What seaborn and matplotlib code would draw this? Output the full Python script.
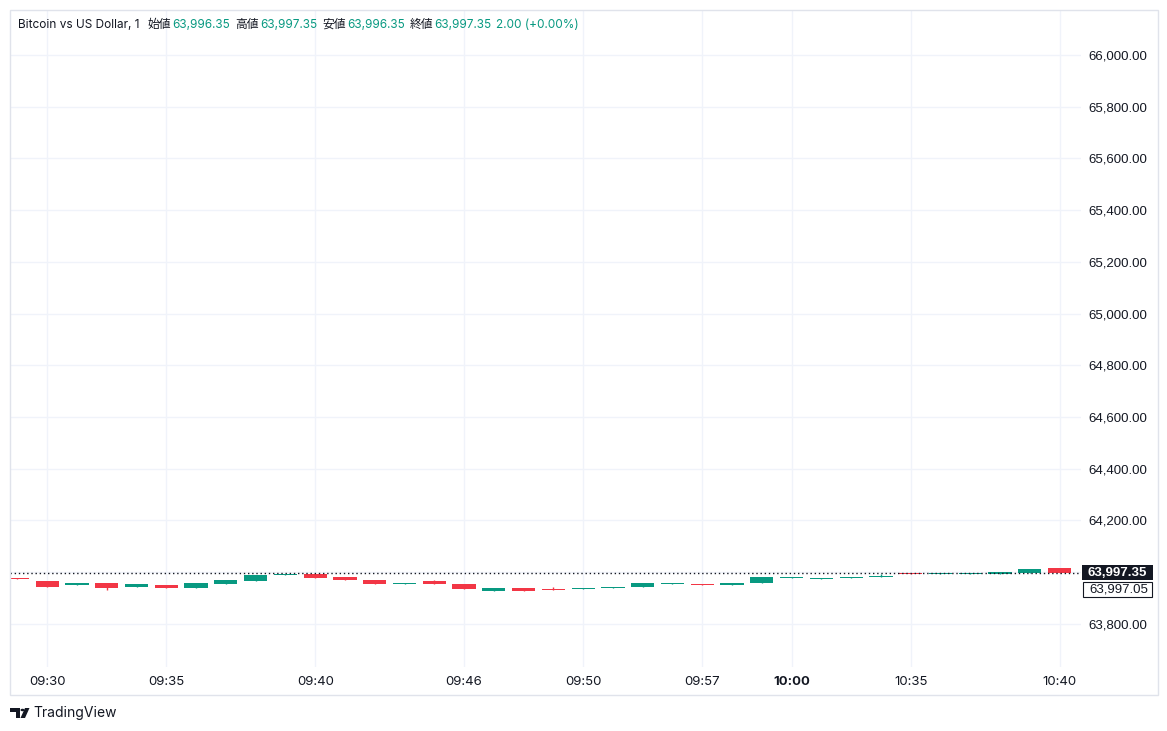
import numpy as np
import pandas as pd
import matplotlib
matplotlib.use("Agg")
import matplotlib.pyplot as plt
import seaborn as sns
from matplotlib.patches import Rectangle, Polygon, Circle

# one-minute candles
opens = [63977.0, 63965.0, 63951.0, 63957.5, 63943.0, 63949.5, 63939.5, 63954.5, 63966.5, 63989.5,
         63992.5, 63980.5, 63969.0, 63955.0, 63965.0, 63953.5, 63927.5, 63938.0, 63934.0, 63935.5,
         63939.5, 63943.0, 63955.0, 63953.5, 63951.0, 63958.5, 63977.0, 63974.0, 63977.0, 63980.5,
         63997.5, 63993.5, 63993.5, 63993.5, 63997.5, 64015.5]
closes = [63974.0, 63943.0, 63957.5, 63939.5, 63953.5, 63939.5, 63957.5, 63969.0, 63988.5, 63993.5,
          63978.0, 63970.0, 63954.5, 63957.5, 63954.5, 63935.5, 63938.0, 63927.5, 63931.5, 63938.0,
          63942.0, 63957.5, 63957.5, 63951.0, 63957.5, 63980.5, 63980.5, 63977.0, 63980.5, 63984.5,
          63993.5, 63997.5, 63997.5, 64001.0, 64011.5, 63997.35]
highs = [63977.0, 63965.0, 63957.5, 63957.5, 63953.5, 63949.5, 63957.5, 63969.0, 63988.5, 63993.5,
         63992.5, 63980.5, 63969.0, 63957.5, 63969.0, 63953.5, 63938.0, 63938.0, 63942.0, 63938.0,
         63942.0, 63957.5, 63957.5, 63953.5, 63957.5, 63980.5, 63980.5, 63977.0, 63980.5, 63992.5,
         63997.5, 63997.5, 63997.5, 64001.0, 64011.5, 64015.5]
lows = [63974.0, 63943.0, 63951.0, 63931.5, 63943.0, 63939.5, 63939.5, 63954.5, 63966.5, 63989.5,
        63978.0, 63970.0, 63954.5, 63955.0, 63954.5, 63935.5, 63927.5, 63927.5, 63931.5, 63935.5,
        63939.5, 63943.0, 63955.0, 63951.0, 63951.0, 63958.5, 63977.0, 63974.0, 63977.0, 63980.5,
        63993.5, 63993.5, 63993.5, 63993.5, 63997.5, 63997.35]

time_ticks = [1, 5, 10, 15, 19, 23, 26, 30, 35]
time_labels = ["09:30", "09:35", "09:40", "09:46", "09:50", "09:57", "10:00", "10:35", "10:40"]
price_ticks = [63800, 64000, 64200, 64400, 64600, 64800, 65000, 65200, 65400, 65600, 65800, 66000]

last_price = 63997.35
second_price = 63997.05
hdr_open, hdr_high, hdr_low, hdr_close = "63,996.35", "63,997.35", "63,996.35", "63,997.35"
hdr_change = "2.00 (+0.00%)"

UP = "#089981"
DOWN = "#f23645"
TXT = "#131722"
GRID = "#f0f3fa"

df = pd.DataFrame({"open": opens, "close": closes, "high": highs, "low": lows})
df["x"] = np.arange(len(df))
df["up"] = df["close"] >= df["open"]
df["color"] = np.where(df["up"], UP, DOWN)

sns.set_theme(style="white")
plt.rcParams["font.family"] = ["Inter", "Noto Sans CJK JP", "DejaVu Sans"]

fig = plt.figure(figsize=(11.67, 7.31), dpi=100)
W, H = 1167, 731
ax = fig.add_axes([10 / W, 64 / H, (1081 - 10) / W, (721 - 64) / H])

for s in ax.spines.values():
    s.set_visible(False)

# grid
for t in time_ticks:
    ax.axvline(t, color=GRID, lw=1, zorder=0)
for p in price_ticks:
    ax.axhline(p, color=GRID, lw=1, zorder=0)

# candles
ax.vlines(df["x"], df["low"], df["high"], colors=df["color"], lw=1, zorder=2)
ax.bar(df["x"], (df["close"] - df["open"]).abs().clip(lower=1.5),
       bottom=df[["open", "close"]].min(axis=1), width=0.78,
       color=df["color"], linewidth=0, zorder=3)

ax.axhline(last_price, color=TXT, lw=1, ls=(0, (1, 2)), zorder=4)

ax.set_xlim(-0.25, 35.72)
ax.set_ylim(63632.8, 66174)

ax.set_xticks(time_ticks)
ax.set_xticklabels(time_labels, fontsize=9.5, color=TXT)
for lbl in ax.get_xticklabels():
    if lbl.get_text() == "10:00":
        lbl.set_fontweight("bold")
ax.tick_params(axis="x", length=0, pad=6.5)

ax.yaxis.tick_right()
ax.set_yticks(price_ticks)
ax.set_yticklabels(["" if p == 64000 else f"{p:,.2f}" for p in price_ticks],
                   fontsize=9.5, color=TXT, family="Liberation Sans")
ax.tick_params(axis="y", length=0, pad=5.5)

# price labels on the right scale (boxes in pixel coords)
def px_box(x0, y0, x1, y1, fc, ec, lw):
    fig.patches.append(Rectangle((x0 / W, 1 - y1 / H), (x1 - x0) / W, (y1 - y0) / H,
                                 transform=fig.transFigure, fc=fc, ec=ec, lw=lw, zorder=5))

px_box(1082, 565, 1153, 580, TXT, TXT, 0)
fig.text(1088 / W, 1 - 572.5 / H, f"{last_price:,.2f}", color="white", fontsize=9.5,
         fontweight="bold", family="Liberation Sans", va="center", ha="left", zorder=6)
px_box(1082.5, 581.5, 1152, 597, "white", TXT, 0.8)
fig.text(1089 / W, 1 - 589.5 / H, f"{second_price:,.2f}", color=TXT, fontsize=9.5,
         family="Liberation Sans", va="center", ha="left", zorder=6)

# outer frame
fig.patches.append(Rectangle((10 / W, 1 - 695 / H), (1158 - 10) / W, (695 - 10) / H,
                             transform=fig.transFigure, fill=False, ec="#e0e3eb", lw=1))

# header legend
hy = 1 - 25 / H
pieces = [
    (18, "Bitcoin vs US Dollar, 1", TXT), (147, "始値", TXT), (172, hdr_open, UP),
    (235, "高値", TXT), (260, hdr_high, UP), (322, "安値", TXT), (347, hdr_low, UP),
    (410, "終値", TXT), (434, hdr_close, UP), (496, hdr_change, UP),
]
for px, s, c in pieces:
    fig.text(px / W, hy, s, color=c, fontsize=8.5, va="center", ha="left")

# logo mark
def fpt(x, y):
    return (x / W, 1 - y / H)

fig.patches.append(Polygon([fpt(10, 708), fpt(20, 708), fpt(20, 718), fpt(16, 718),
                            fpt(16, 712), fpt(10, 712)], closed=True,
                           transform=fig.transFigure, fc=TXT, ec="none"))
fig.patches.append(Circle(fpt(22.5, 710), 2.0 / W, transform=fig.transFigure, fc=TXT, ec="none"))
fig.patches.append(Polygon([fpt(25, 708), fpt(29.5, 708), fpt(25, 718), fpt(20.5, 718)], closed=True,
                           transform=fig.transFigure, fc=TXT, ec="none"))
fig.text(33 / W, 1 - 713 / H, "TradingView", fontsize=10, color=TXT, va="center", ha="left")

fig.savefig("out.png", dpi=100)
